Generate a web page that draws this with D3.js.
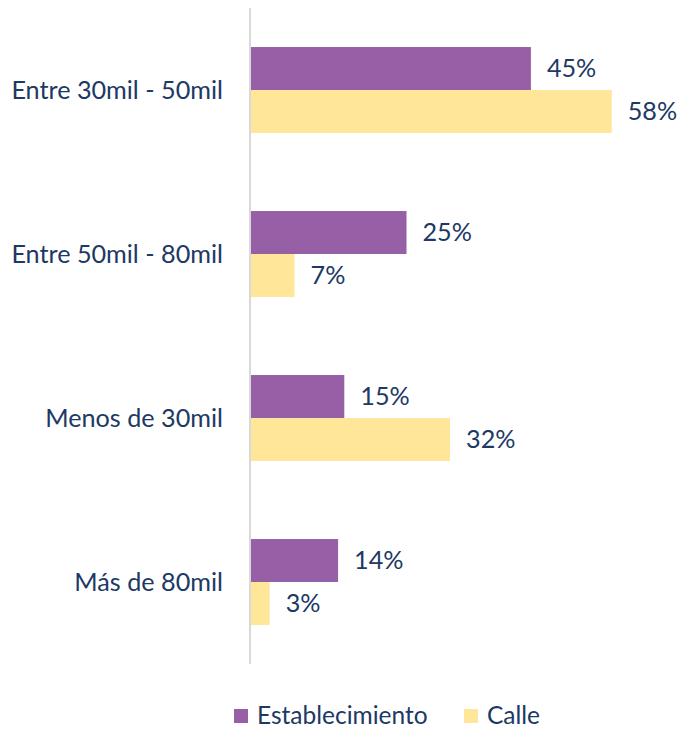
<!DOCTYPE html>
<html><head><meta charset="utf-8">
<script src="https://cdn.jsdelivr.net/npm/d3@7"></script>
<style>body{margin:0;background:#fff;} svg{display:block;}</style>
</head><body>
<svg id="c" width="681" height="730"></svg>
<script>
const categories = ["Entre 30mil - 50mil", "Entre 50mil - 80mil", "Menos de 30mil", "Más de 80mil"];
const seriesNames = ["Establecimiento", "Calle"];
const establecimiento = [45, 25, 15, 14];
const calle = [58, 7, 32, 3];
const colors = ["#975FA5", "#FFE699"];
const textColor = "#203864";
const font = "Lato, 'Open Sans', sans-serif";
const fs = 25.2;

const svg = d3.select("#c");
const x = d3.scaleLinear().domain([0, 100]).range([251, 873]);
const y = d3.scaleBand().domain(categories).range([8, 664]).paddingInner(0.476).paddingOuter(0.238);
const ys = d3.scaleBand().domain(seriesNames).range([0, y.bandwidth()]);

const data = categories.map((c, i) => ({cat: c, vals: [establecimiento[i], calle[i]]}));

const g = svg.selectAll("g.cat").data(data).join("g").attr("class", "cat")
  .attr("transform", d => `translate(0,${y(d.cat)})`);

g.selectAll("rect").data(d => d.vals.map((v, j) => ({v, j})))
  .join("rect")
  .attr("x", x(0))
  .attr("y", d => ys(seriesNames[d.j]))
  .attr("width", d => x(d.v) - x(0))
  .attr("height", ys.bandwidth())
  .attr("fill", d => colors[d.j]);

g.selectAll("text.val").data(d => d.vals.map((v, j) => ({v, j})))
  .join("text").attr("class", "val")
  .attr("x", d => x(d.v) + 16)
  .attr("y", d => ys(seriesNames[d.j]) + ys.bandwidth() / 2)
  .attr("dy", "0.35em")
  .attr("font-family", font).attr("font-size", fs)
  .attr("fill", textColor)
  .text(d => d.v + "%");

// axis line
svg.append("line").attr("x1", 250).attr("x2", 250).attr("y1", 8).attr("y2", 664)
  .attr("stroke", "#D9D9D9").attr("stroke-width", 2);

// category labels
svg.selectAll("text.cat").data(categories).join("text").attr("class", "cat")
  .attr("x", 223).attr("y", d => y(d) + y.bandwidth() / 2)
  .attr("dy", "0.35em").attr("text-anchor", "end")
  .attr("font-family", font).attr("font-size", fs)
  .attr("fill", textColor).text(d => d);

// legend
const legendX = [234, 464];
const lg = svg.selectAll("g.leg").data(seriesNames).join("g").attr("class", "leg")
  .attr("transform", (d, i) => `translate(${legendX[i]},709)`);
lg.append("rect").attr("width", 14).attr("height", 14).attr("fill", (d, i) => colors[i]);
lg.append("text").attr("x", 23).attr("y", 15)
  .attr("font-family", font).attr("font-size", 24.5).attr("fill", textColor).text(d => d);
</script>
</body></html>
